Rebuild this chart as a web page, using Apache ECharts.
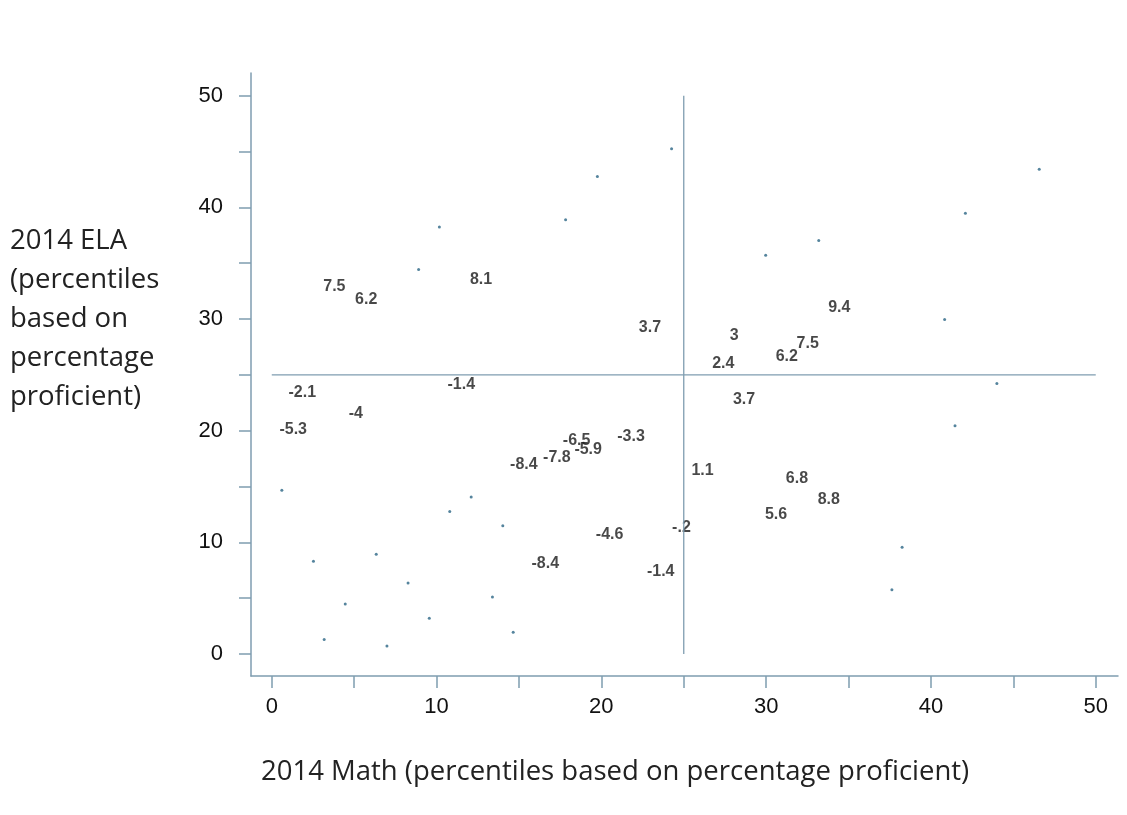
<!DOCTYPE html>
<html>
<head>
<meta charset="utf-8">
<script src="https://cdn.jsdelivr.net/npm/echarts@6/dist/echarts.min.js"></script>
<style>
html,body{margin:0;padding:0;background:#fff;}
#chart{width:1127px;height:815px;}
</style>
</head>
<body>
<div id="chart"></div>
<script>
// Labelled schools: position (Math, ELA) and the printed value
const labelMath = [3.8, 5.73, 12.7, 22.95, 11.5, 1.85, 5.1, 1.3, 15.3, 17.3, 18.5, 19.2, 21.8, 20.5, 16.6, 23.6, 24.86,
                   28.06, 27.4, 31.25, 32.52, 34.44, 28.66, 26.14, 31.87, 33.8, 30.6];
const labelEla  = [32.9, 31.75, 33.5, 29.2, 24.1, 23.4, 21.5, 20.1, 17.0, 17.6, 19.1, 18.3, 19.5, 10.65, 8.1, 7.4, 11.3,
                   28.5, 26.0, 26.6, 27.8, 31.0, 22.8, 16.4, 15.7, 13.85, 12.5];
const labelText = ["7.5", "6.2", "8.1", "3.7", "-1.4", "-2.1", "-4", "-5.3", "-8.4", "-7.8", "-6.5", "-5.9", "-3.3", "-4.6", "-8.4", "-1.4", "-.2",
                   "3", "2.4", "6.2", "7.5", "9.4", "3.7", "1.1", "6.8", "8.8", "5.6"];

// Unlabelled schools (small dots)
const dotMath = [0.61, 2.53, 3.18, 4.46, 6.34, 6.99, 8.27, 9.56, 10.8, 12.1, 13.39, 14.02, 14.65,
                 10.17, 8.91, 17.83, 19.76, 24.26, 29.97, 33.19, 42.09, 46.57, 40.83, 44.0, 41.46, 38.25, 37.63];
const dotEla  = [14.66, 8.3, 1.3, 4.48, 8.93, 0.72, 6.36, 3.2, 12.77, 14.06, 5.1, 11.49, 1.94,
                 38.25, 34.44, 38.88, 42.77, 45.24, 35.7, 37.04, 39.48, 43.42, 29.96, 24.23, 20.44, 9.55, 5.76];

// Axis ticks / labels
const tickValues  = [0, 5, 10, 15, 20, 25, 30, 35, 40, 45, 50];
const labelValues = [0, 10, 20, 30, 40, 50];
const cutoff = 25;
const xTitle = "2014 Math (percentiles based on percentage proficient)";
const yTitleLines = ["2014 ELA", "(percentiles", "based on", "percentage", "proficient)"];

const axisColor = '#7f9db0';
const sansFont = "'Liberation Sans', Arial, Helvetica, sans-serif";
const chart = echarts.init(document.getElementById('chart'), null, {renderer: 'canvas'});

const labelData = labelMath.map((x, i) => [x, labelEla[i], labelText[i]]);
const dotData = dotMath.map((x, i) => [x, dotEla[i]]);

const axisCommon = {
  type: 'value',
  splitLine: {show: false},
  axisLine: {show: true, onZero: false, lineStyle: {color: axisColor, width: 1.5}},
  axisTick: {show: true, inside: false, length: 12, customValues: tickValues, lineStyle: {color: axisColor, width: 1.5}},
};

chart.setOption({
  animation: false,
  backgroundColor: '#ffffff',
  grid: {left: 251, top: 73, width: 867, height: 603, containLabel: false},
  xAxis: Object.assign({}, axisCommon, {
    min: -1.26, max: 51.35,
    axisLabel: {customValues: labelValues, margin: 20, fontSize: 22, color: '#111', fontFamily: sansFont}
  }),
  yAxis: Object.assign({}, axisCommon, {
    min: -1.97, max: 52.03,
    axisLabel: {customValues: labelValues, margin: 28, fontSize: 22, color: '#111', fontFamily: sansFont}
  }),
  graphic: [
    {type: 'text', left: 261, top: 758,
     style: {text: xTitle, fontSize: 27.5, fontFamily: "'Open Sans', sans-serif", fill: '#222'}},
    {type: 'text', left: 10, top: 222,
     style: {text: yTitleLines.join('\n'), fontSize: 27.5, lineHeight: 39, fontFamily: "'Open Sans', sans-serif", fill: '#222'}}
  ],
  series: [
    {type: 'line', data: [[cutoff, 0], [cutoff, 50]], symbol: 'none',
     lineStyle: {color: axisColor, width: 1.3}, silent: true},
    {type: 'line', data: [[0, cutoff], [50, cutoff]], symbol: 'none',
     lineStyle: {color: axisColor, width: 1.3}, silent: true},
    {type: 'scatter', data: dotData, symbolSize: 3, itemStyle: {color: '#2a6584'}},
    {type: 'scatter', data: labelData, symbolSize: 0,
     label: {show: true, position: 'inside', formatter: p => p.data[2],
             fontSize: 16, fontWeight: 'bold', color: '#1a1a1a', fontFamily: sansFont}}
  ]
});
</script>
</body>
</html>
